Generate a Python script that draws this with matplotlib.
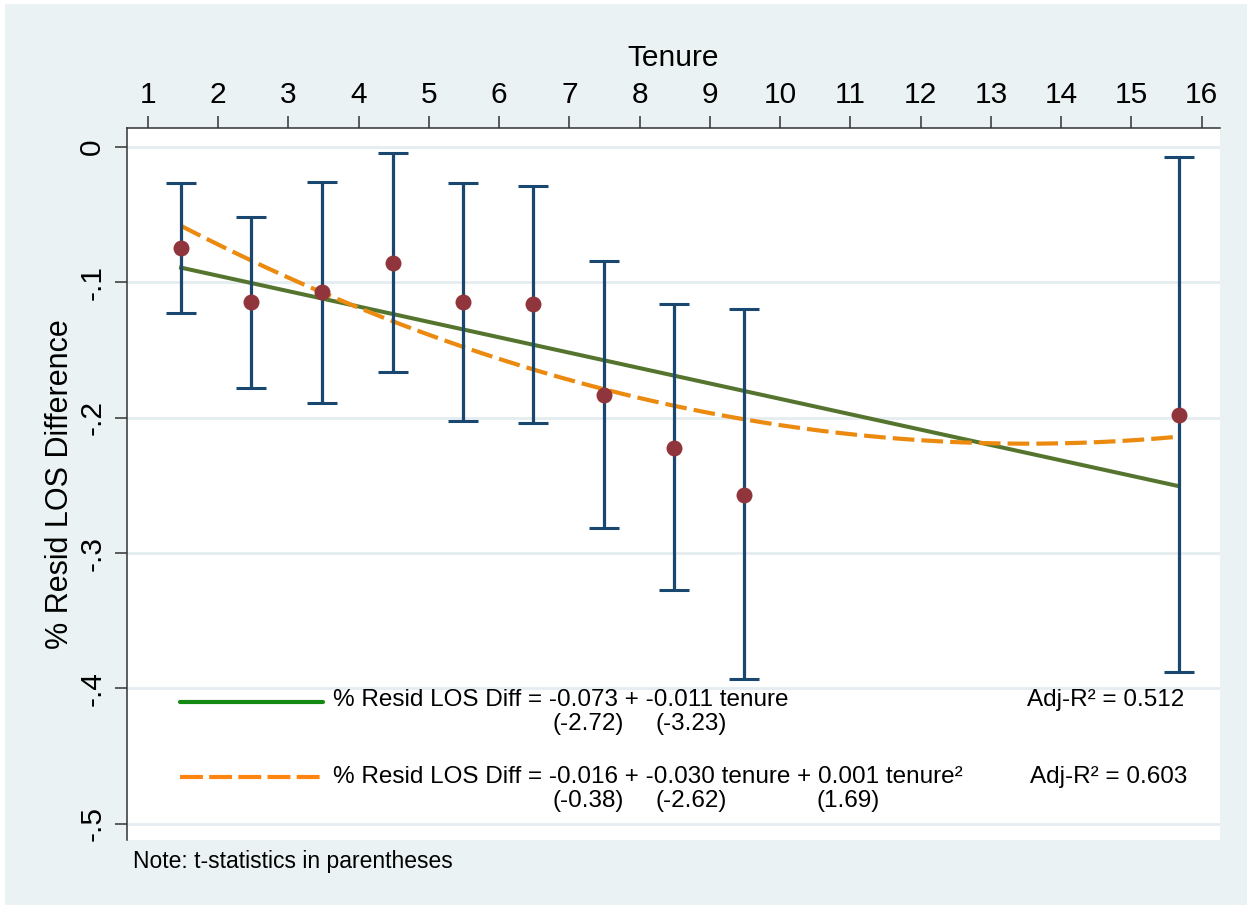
import numpy as np
import matplotlib.pyplot as plt
from matplotlib.lines import Line2D
from matplotlib.patches import Rectangle

plt.rcParams['font.family'] = ['Liberation Sans', 'DejaVu Sans']

# bin means and confidence bounds
tenure = [1.475, 2.475, 3.478, 4.487, 5.49, 6.49, 7.49, 8.49, 9.487, 15.67]
resid = [-0.0747, -0.1147, -0.1074, -0.0857, -0.1145, -0.1158, -0.1831, -0.2222, -0.2570, -0.1978]
upper = [-0.0268, -0.0514, -0.0260, -0.0047, -0.0264, -0.0288, -0.0842, -0.1158, -0.1198, -0.0076]
lower = [-0.1226, -0.1780, -0.1890, -0.1660, -0.2024, -0.2037, -0.2815, -0.3272, -0.3931, -0.3880]

# fit coefficients (intercept, slope, square)
lin_coef = [-0.0724, -0.01137]
quad_coef = [-0.0165, -0.0300, 0.00111]

lin_eq = '% Resid LOS Diff = -0.073 + -0.011 tenure'
quad_eq = '% Resid LOS Diff = -0.016 + -0.030 tenure + 0.001 tenure\u00b2'
lin_t = ['(-2.72)', '(-3.23)']
quad_t = ['(-0.38)', '(-2.62)', '(1.69)']
lin_r2 = 'Adj-R\u00b2 = 0.512'
quad_r2 = 'Adj-R\u00b2 = 0.603'

xticks = list(range(1, 17))
yticks = [0, -0.1, -0.2, -0.3, -0.4, -0.5]
ytick_labels = ['0', '-.1', '-.2', '-.3', '-.4', '-.5']

W, H = 1252, 909


def fp(x, y):
    return x / W, 1 - y / H


fig = plt.figure(figsize=(W / 100, H / 100), dpi=100, facecolor='white')
fig.add_artist(Rectangle(fp(5, 905), 1242 / W, 901 / H, transform=fig.transFigure,
                         facecolor='#eaf2f3', edgecolor='none', zorder=0))

ax = fig.add_axes([127 / W, 1 - 840 / H, (1220 - 127) / W, (840 - 128) / H])
ax.set_facecolor('white')

x = np.array(tenure)
y = np.array(resid)
up = np.array(upper)
lo = np.array(lower)

xs = np.linspace(x.min(), x.max(), 300)
ax.plot(xs, lin_coef[0] + lin_coef[1] * xs, color='#55752f', lw=2.9, zorder=2)
ax.plot(xs, quad_coef[0] + quad_coef[1] * xs + quad_coef[2] * xs ** 2,
        color='#ec8a10', lw=3.0, dashes=(5.2, 1.7), zorder=2.5)

ax.errorbar(x, y, yerr=[y - lo, up - y], fmt='none', ecolor='#1a476f',
            elinewidth=2.3, capsize=10.5, capthick=2.2, zorder=3)
ax.plot(x, y, 'o', color='#90353b', markersize=11.5, markeredgewidth=0, zorder=4)

ax.set_xlim(0.705, 16.26)
ax.set_ylim(-0.512, 0.014)
ax.set_xticks(xticks)
ax.set_yticks(yticks)
ax.set_yticklabels(ytick_labels)
ax.xaxis.tick_top()
ax.xaxis.set_label_position('top')
ax.tick_params(axis='both', labelsize=21.5, length=9, width=1.1, color='#333333', direction='out')
ax.tick_params(axis='x', pad=5)
ax.tick_params(axis='y', pad=6, labelrotation=90)
for lbl in ax.get_yticklabels():
    lbl.set_va('center')

ax.grid(axis='y', color='#e4edf0', lw=2.0)
ax.set_axisbelow(True)
for s in ['right', 'bottom']:
    ax.spines[s].set_visible(False)
for s in ['left', 'top']:
    ax.spines[s].set_color('#333333')
    ax.spines[s].set_linewidth(1.1)

ax.set_xlabel('Tenure', fontsize=21.5)
ax.xaxis.set_label_coords(0.5, (840 - 66) / 712)
ax.set_ylabel('% Resid LOS Difference', fontsize=22)
ax.yaxis.set_label_coords((75 - 127) / 1093, 0.5)

# legend drawn inside the plot region
fig.add_artist(Line2D([180 / W, 323 / W], [1 - 702 / H] * 2, color='#148a14', lw=3.0,
                      solid_capstyle='round', zorder=5))
fig.add_artist(Line2D([180 / W, 323 / W], [1 - 777 / H] * 2, color='#ff8410', lw=3.0,
                      dashes=(5.5, 1.5), zorder=5))

fs = 17.5
fig.text(*fp(333, 706), lin_eq, fontsize=fs, va='baseline')
fig.text(*fp(333, 783), quad_eq, fontsize=fs, va='baseline')
for lbl, px in zip(lin_t, [553, 655]):
    fig.text(*fp(px, 730), lbl, fontsize=fs, va='baseline')
for lbl, px in zip(quad_t, [553, 655, 817]):
    fig.text(*fp(px, 807), lbl, fontsize=fs, va='baseline')
fig.text(*fp(1027, 706), lin_r2, fontsize=fs, va='baseline')
fig.text(*fp(1030, 783), quad_r2, fontsize=fs, va='baseline')

fig.text(*fp(133, 868), 'Note: t-statistics in parentheses', fontsize=16.5, va='baseline')

fig.savefig('out.png', dpi=100, facecolor='white')
